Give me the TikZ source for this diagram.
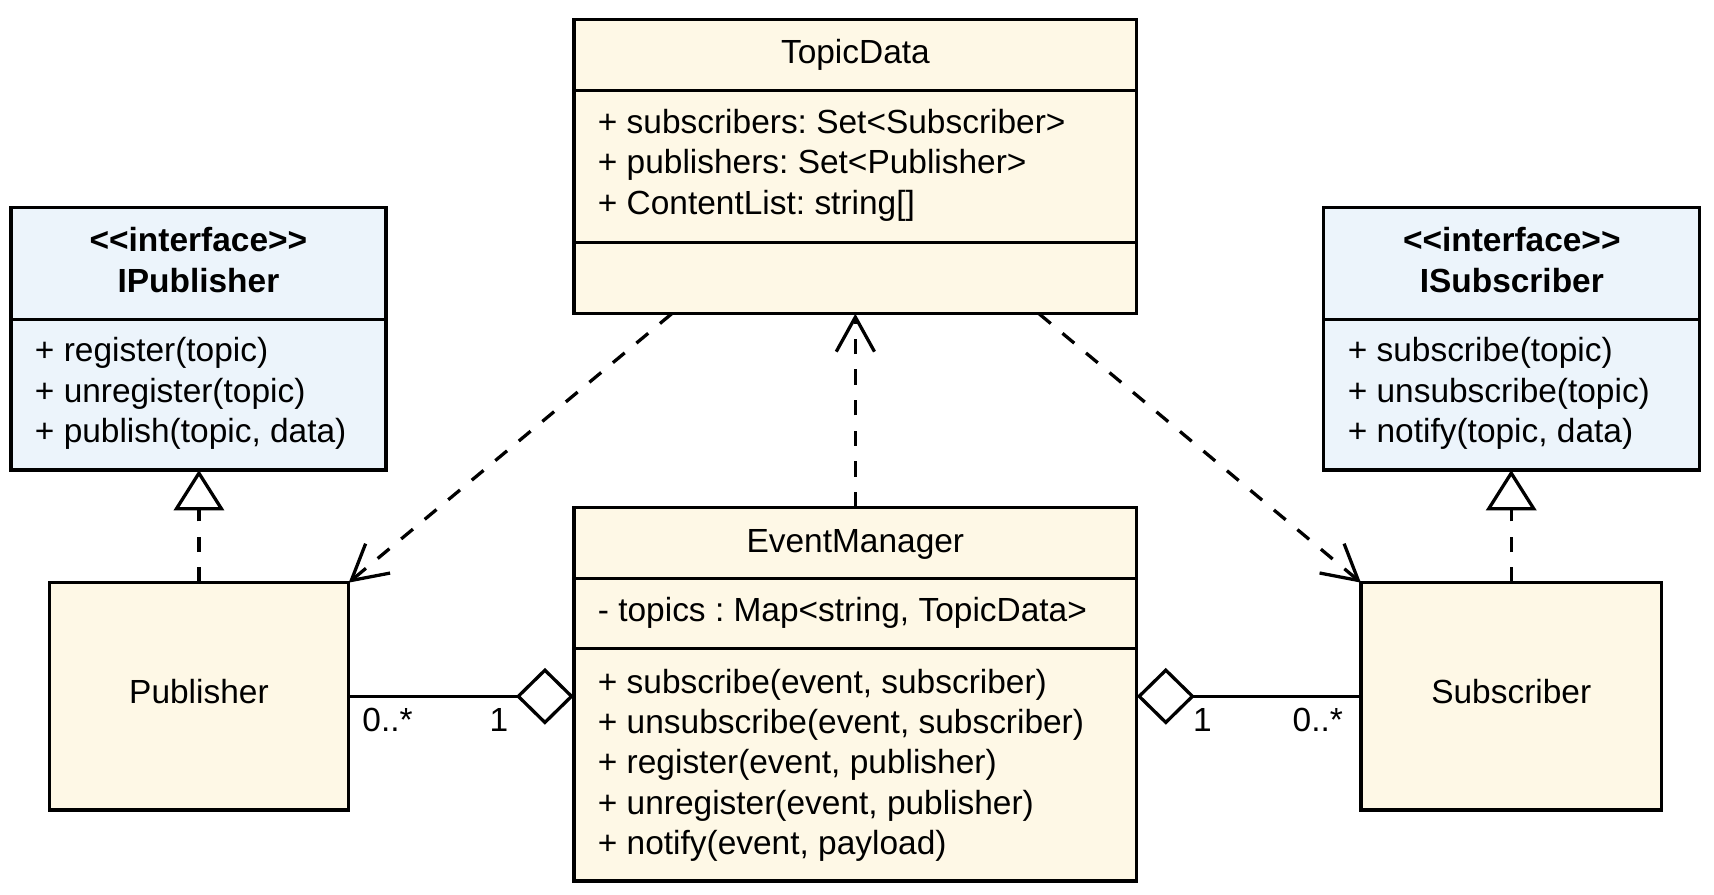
\documentclass[tikz,border=0pt]{standalone}
\usepackage{fontspec}
\setmainfont{Liberation Sans}
\usetikzlibrary{arrows.meta}
\definecolor{cream}{RGB}{254,248,230}
\definecolor{ifblue}{RGB}{236,244,251}
\frenchspacing
\begin{document}
\begin{tikzpicture}[x=0.5pt,y=-0.5pt,
  font=\fontsize{15.3}{18.5}\selectfont,
  box/.style={draw, line width=1.5pt, rectangle, inner sep=0pt, outer sep=0pt, anchor=north west},
  txt/.style={anchor=base west, inner sep=0pt, outer sep=0pt},
  ctxt/.style={anchor=base, inner sep=0pt, outer sep=0pt},
  conn/.style={line width=1.5pt},
  dsh/.style={dash pattern=on 7pt off 7pt},
  realize/.style={conn, dsh, -{Triangle[open, length=18.5pt, width=23pt]}},
  dep/.style={conn, dsh, -{Straight Barb[length=15.8pt, width=17.5pt]}},
  agg/.style={conn, -{Diamond[open, length=26.5pt, width=26pt]}}
]
\useasboundingbox (0,0) rectangle (1568,818);

% boxes
\node[box, fill=ifblue, minimum width=171.5pt, minimum height=120pt] (ipub) at (10,190) {};
\node[box, fill=cream, minimum width=257.5pt, minimum height=134.5pt] (td) at (525,18) {};
\node[box, fill=ifblue, minimum width=172pt, minimum height=120pt] (isub) at (1211,190) {};
\node[box, fill=cream, minimum width=137pt, minimum height=104pt] (pub) at (45,533) {};
\node[box, fill=cream, minimum width=257.5pt, minimum height=171pt] (em) at (525,464) {};
\node[box, fill=cream, minimum width=137.5pt, minimum height=104pt] (sub) at (1245,533) {};

% dividers
\draw[conn] (ipub.west |- 0,292) -- (ipub.east |- 0,292);
\draw[conn] (isub.west |- 0,292) -- (isub.east |- 0,292);
\draw[conn] (td.west |- 0,83) -- (td.east |- 0,83);
\draw[conn] (td.west |- 0,222) -- (td.east |- 0,222);
\draw[conn] (em.west |- 0,529) -- (em.east |- 0,529);
\draw[conn] (em.west |- 0,593) -- (em.east |- 0,593);

% IPublisher
\node[ctxt, font=\fontsize{15.3}{18.5}\selectfont\bfseries] (ipt1) at (181.5,230) {<\kern0pt<interface>\kern0pt>};
\node[ctxt, font=\fontsize{15.3}{18.5}\selectfont\bfseries] (ipt2) at (181.5,268) {IPublisher};
\node[txt] (ipm1) at (32,331) {+ register(topic)};
\node[txt] (ipm2) at (32,368) {+ unregister(topic)};
\node[txt] (ipm3) at (32,405) {+ publish(topic, data)};

% ISubscriber
\node[ctxt, font=\fontsize{15.3}{18.5}\selectfont\bfseries] (ist1) at (1383,230) {<\kern0pt<interface>\kern0pt>};
\node[ctxt, font=\fontsize{15.3}{18.5}\selectfont\bfseries] (ist2) at (1383,268) {ISubscriber};
\node[txt] (ism1) at (1233,331) {+ subscribe(topic)};
\node[txt] (ism2) at (1233,368) {+ unsubscribe(topic)};
\node[txt] (ism3) at (1233,405) {+ notify(topic, data)};

% TopicData
\node[ctxt] (tdt) at (782.5,58.5) {TopicData};
\node[txt] (tda1) at (547,122) {+ subscribers: Set<Subscriber>};
\node[txt] (tda2) at (547,159) {+ publishers: Set<Publisher>};
\node[txt] (tda3) at (547,196) {+ ContentList: string[]};

% EventManager
\node[ctxt] (emt) at (782.5,505) {EventManager};
\node[txt] (ema1) at (547,569) {- topics : Map<string, TopicData>};
\node[txt] (emm1) at (547,634) {+ subscribe(event, subscriber)};
\node[txt] (emm2) at (547,671) {+ unsubscribe(event, subscriber)};
\node[txt] (emm3) at (547,708) {+ register(event, publisher)};
\node[txt] (emm4) at (547,745) {+ unregister(event, publisher)};
\node[txt] (emm5) at (547,782) {+ notify(event, payload)};

% Publisher / Subscriber
\node[inner sep=0pt] (pubt) at (182,633) {Publisher};
\node[inner sep=0pt] (subt) at (1382.5,633) {Subscriber};

% multiplicities
\node[ctxt] (m1) at (354.5,669) {0..*};
\node[ctxt] (m2) at (456.5,669) {1};
\node[ctxt] (m3) at (1100,669) {1};
\node[ctxt] (m4) at (1205.5,669) {0..*};

% connectors
\coordinate (tdl) at ([xshift=44.75pt]td.south west);
\coordinate (tdr) at ([xshift=-44.75pt]td.south east);
\draw[realize] (pub.north) -- (pub.north |- ipub.south);
\draw[realize] (sub.north) -- (sub.north |- isub.south);
\draw[dep] (em.north) -- (td.south);
\draw[dep] (tdl) -- (pub.north east);
\draw[dep] (tdr) -- (sub.north west);
\draw[agg] (pub.east) -- (pub.east -| em.west);
\draw[agg] (sub.west) -- (sub.west -| em.east);
\end{tikzpicture}
\end{document}
